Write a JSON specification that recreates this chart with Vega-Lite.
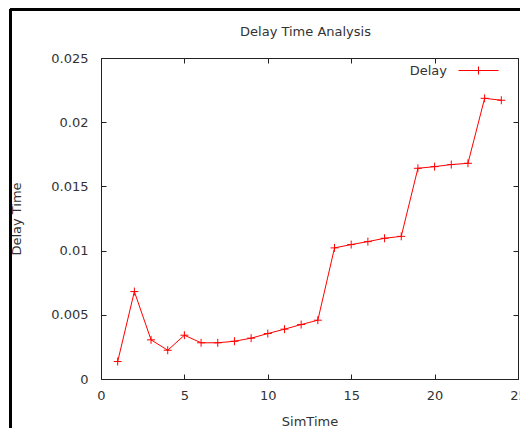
{
  "$schema": "https://vega.github.io/schema/vega-lite/v6.json",
  "width": 417,
  "height": 321,
  "autosize": "none",
  "padding": {"left": 101, "top": 58, "right": 2, "bottom": 49},
  "background": "white",
  "title": {"text": "Delay Time Analysis", "fontSize": 13, "font": "DejaVu Sans", "fontWeight": "normal", "color": "#333", "frame": "group", "anchor": "middle", "baseline": "alphabetic", "offset": -41, "dx": -4},
  "config": {
    "view": {"stroke": "#222", "strokeWidth": 1},
    "axis": {"domain": false, "grid": false, "tickColor": "#222", "tickSize": -5, "tickWidth": 1, "labelFont": "DejaVu Sans", "labelFontSize": 13, "labelColor": "#333", "titleFont": "DejaVu Sans", "titleFontSize": 13, "titleFontWeight": "normal", "titleColor": "#333"},
    "legend": {"labelFont": "DejaVu Sans"}
  },
  "data": {"values": [
    {"SimTime": 1, "Delay": 0.00136},
    {"SimTime": 2, "Delay": 0.00681},
    {"SimTime": 3, "Delay": 0.00305},
    {"SimTime": 4, "Delay": 0.00224},
    {"SimTime": 5, "Delay": 0.00341},
    {"SimTime": 6, "Delay": 0.00282},
    {"SimTime": 7, "Delay": 0.00282},
    {"SimTime": 8, "Delay": 0.00294},
    {"SimTime": 9, "Delay": 0.00318},
    {"SimTime": 10, "Delay": 0.00354},
    {"SimTime": 11, "Delay": 0.00388},
    {"SimTime": 12, "Delay": 0.00424},
    {"SimTime": 13, "Delay": 0.00458},
    {"SimTime": 14, "Delay": 0.01021},
    {"SimTime": 15, "Delay": 0.01047},
    {"SimTime": 16, "Delay": 0.0107},
    {"SimTime": 17, "Delay": 0.01096},
    {"SimTime": 18, "Delay": 0.01111},
    {"SimTime": 19, "Delay": 0.01641},
    {"SimTime": 20, "Delay": 0.01654},
    {"SimTime": 21, "Delay": 0.0167},
    {"SimTime": 22, "Delay": 0.0168},
    {"SimTime": 23, "Delay": 0.02186},
    {"SimTime": 24, "Delay": 0.02171}
  ]},
  "layer": [
    {
      "mark": {"type": "rule", "color": "#000", "strokeWidth": 2.5},
      "encoding": {
        "x": {"datum": -5.44, "type": "quantitative", "scale": {"domain": [0, 25], "nice": false}, "axis": null},
        "y": {"datum": 0.02876, "type": "quantitative", "scale": {"domain": [0, 0.025], "nice": false}, "axis": null},
        "y2": {"datum": -0.01}
      }
    },
    {
      "mark": {"type": "rule", "color": "#000", "strokeWidth": 2.5},
      "encoding": {
        "x": {"datum": -5.44, "type": "quantitative", "axis": null},
        "x2": {"datum": 30},
        "y": {"datum": 0.02876, "type": "quantitative", "axis": null}
      }
    },
    {
      "mark": {"type": "line", "strokeWidth": 1},
      "encoding": {
        "x": {"field": "SimTime", "type": "quantitative", "title": "SimTime", "axis": {"values": [0, 5, 10, 15, 20, 25], "labelPadding": 15, "titlePadding": 13, "labelFlush": false}},
        "y": {"field": "Delay", "type": "quantitative", "title": "Delay Time", "axis": {"values": [0, 0.005, 0.01, 0.015, 0.02, 0.025], "format": "~f", "labelPadding": 18, "titlePadding": 27}},
        "color": {"datum": "Delay", "scale": {"range": ["#ff0000"]}, "legend": {"orient": "none", "legendX": 357, "legendY": -8, "title": null, "padding": 0, "symbolType": "M-1,0H1M0,-0.2V0.2", "symbolSize": 1600, "symbolStrokeColor": "#ff0000", "symbolStrokeWidth": 1, "symbolFillColor": "transparent", "labelAlign": "right", "labelOffset": -52, "labelFontSize": 13, "labelColor": "#333"}}
      }
    },
    {
      "mark": {"type": "point", "shape": "M-1,0H1M0,-1V1", "size": 64, "filled": false, "color": "#ff0000", "strokeWidth": 1, "opacity": 1},
      "encoding": {
        "x": {"field": "SimTime", "type": "quantitative", "axis": null},
        "y": {"field": "Delay", "type": "quantitative", "axis": null}
      }
    },
    {
      "mark": {"type": "point", "opacity": 0},
      "encoding": {
        "x": {"field": "SimTime", "type": "quantitative", "axis": {"orient": "top", "values": [0, 5, 10, 15, 20, 25], "labels": false, "title": null}},
        "y": {"field": "Delay", "type": "quantitative", "axis": {"orient": "right", "values": [0, 0.005, 0.01, 0.015, 0.02, 0.025], "labels": false, "title": null}}
      }
    }
  ],
  "resolve": {"axis": {"x": "independent", "y": "independent"}}
}
